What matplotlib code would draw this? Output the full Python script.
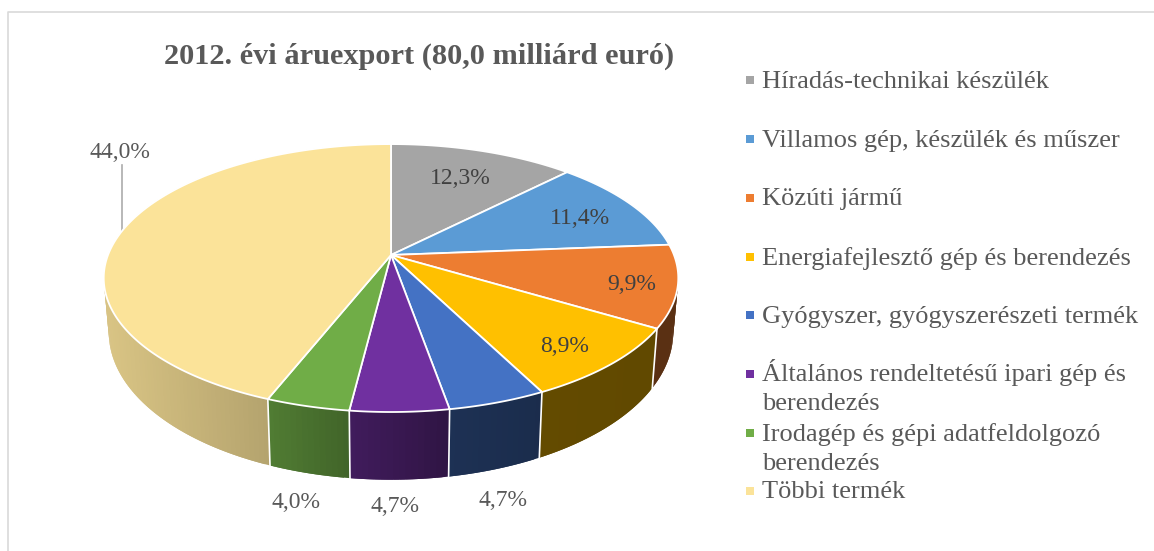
import matplotlib
matplotlib.use('Agg')
import matplotlib.pyplot as plt
import numpy as np

plt.rcParams['font.family'] = ['Liberation Serif', 'DejaVu Serif']

title = '2012. évi áruexport (80,0 milliárd euró)'
categories = [
    'Híradás-technikai készülék',
    'Villamos gép, készülék és műszer',
    'Közúti jármű',
    'Energiafejlesztő gép és berendezés',
    'Gyógyszer, gyógyszerészeti termék',
    'Általános rendeltetésű ipari gép és\nberendezés',
    'Irodagép és gépi adatfeldolgozó\nberendezés',
    'Többi termék',
]
values = [12.3, 11.4, 9.9, 8.9, 4.7, 4.7, 4.0, 44.0]
colors = ['#A5A5A5', '#5B9BD5', '#ED7D31', '#FFC000',
          '#4472C4', '#7030A0', '#70AD47', '#FBE399']

# where the percent labels and legend rows sit, in pixels
label_x = [460, 580, 632, 565, 503, 395, 296, 120]
label_y = [178, 219, 285, 347, 500, 507, 503, 152]
legend_y = [80, 139, 198, 257, 315, 374, 433, 491]

text_color = '#595959'
CX, CY = 391, 255      # pie centre on the top face
A, B, K = 283, 130, 0.172   # perspective of the top face
A2, B2, CY2 = 278, 143, 307 # same for the bottom rim

fig = plt.figure(figsize=(11.54, 5.51), dpi=100)
ax = fig.add_axes([0, 0, 1, 1])
ax.set_xlim(0, 1154)
ax.set_ylim(551, 0)
ax.axis('off')


def top_pt(a, r=1.0):
    u, v = r * np.sin(a), -r * np.cos(a)
    den = 1 - K * v
    return CX + A * u / den, CY + B * v / den


def bottom_pt(a):
    u, v = np.sin(a), -np.cos(a)
    den = 1 - K * v
    return CX + A2 * u / den, CY2 + B2 * v / den


def side_color(col, x):
    # side walls get darker going to the right
    shade = np.interp(x, [110, 267, 349, 447, 540, 650], [.86, .72, .58, .43, .39, .38])
    return tuple(c * shade for c in matplotlib.colors.to_rgb(col))


edges = 2 * np.pi * np.concatenate([[0], np.cumsum(values)]) / np.sum(values)

# side walls first, the top face covers whatever is behind
for i, col in enumerate(colors):
    angles = np.linspace(edges[i], edges[i + 1], max(int((edges[i + 1] - edges[i]) * 60), 4))
    tx, ty = top_pt(angles)
    bx, by = bottom_pt(angles)
    for j in range(len(angles) - 1):
        # each strip runs over the next one's start so no seams show
        k = min(j + 2, len(angles) - 1)
        c = side_color(col, (tx[j] + tx[j + 1]) / 2)
        ax.fill(np.r_[tx[j:k + 1], bx[j:k + 1][::-1]], np.r_[ty[j:k + 1], by[j:k + 1][::-1]],
                facecolor=c, edgecolor='none', zorder=2)

# white seams on the walls
for e in edges[:-1]:
    tx, ty = top_pt(e)
    bx, by = bottom_pt(e)
    if -np.cos(e) > -0.2:
        ax.plot([tx, bx], [ty, by], color='white', lw=1.2, zorder=3)

for i, col in enumerate(colors):
    angles = np.linspace(edges[i], edges[i + 1], 200)
    tx, ty = top_pt(angles)
    ax.fill(np.r_[CX, tx], np.r_[CY, ty], facecolor=col, edgecolor='white', linewidth=1.3,
            joinstyle='round', zorder=4)

ax.text(419, 56, title, fontsize=21.9, fontweight='bold', color=text_color,
        ha='center', va='center', zorder=6)

for x, y, v in zip(label_x, label_y, values):
    ax.text(x, y, f'{v:.1f}%'.replace('.', ','), fontsize=17, color='#404040' if y < 400 and x > 200 else text_color,
            ha='center', va='center', zorder=6)

# leader for the big slice
ax.plot([122, 122], [165, 232], color='#ABABAB', lw=1.2, zorder=1)

for y, name, col in zip(legend_y, categories, colors):
    ax.scatter([750], [y], marker='s', s=34, color=col, linewidths=0, zorder=6)
    # two line names are 29 px apart, set line by line
    for n, line in enumerate(name.split('\n')):
        ax.text(762, y + 7.5 + 29 * n, line, fontsize=19, color=text_color, ha='left',
                va='baseline', zorder=6)

# chart frame
ax.plot([8, 8, 1154], [551, 12, 12], color='#D9D9D9', lw=1.2, zorder=1)

fig.savefig('out.png', dpi=100)
